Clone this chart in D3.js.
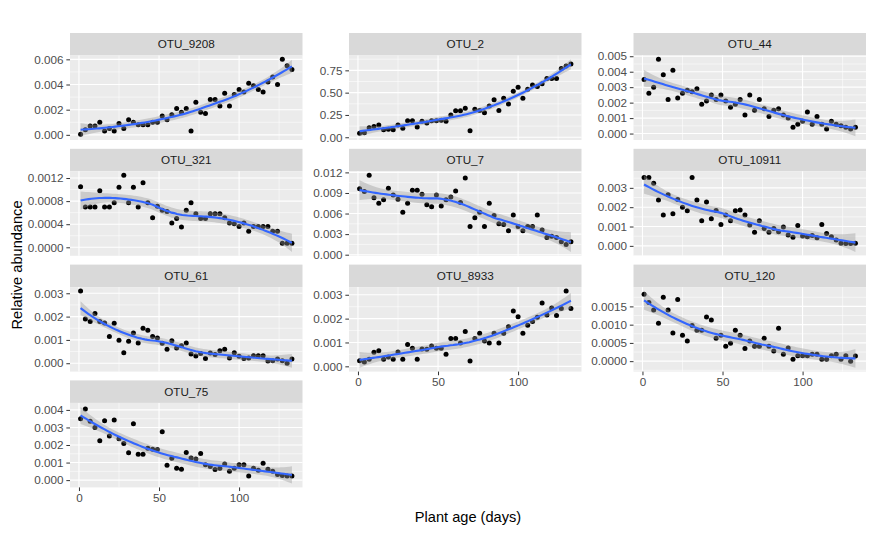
<!DOCTYPE html>
<html>
<head>
<meta charset="utf-8">
<script src="https://cdn.jsdelivr.net/npm/d3@7"></script>
<style>
  body { margin: 0; background: #fff; }
  svg { display: block; font-family: "Liberation Sans", Arial, sans-serif; }
</style>
</head>
<body>
<div id="chart"></div>
<script>
// sampling days (same for every OTU)
const days = [1,4,7,10,13,16,19,22,25,28,31,34,37,40,43,46,49,52,55,58,61,64,67,70,73,76,79,82,85,88,91,94,97,100,103,106,109,112,115,118,121,124,127,130,133];

const otuNames = ["OTU_9208","OTU_2","OTU_44","OTU_321","OTU_7","OTU_10911","OTU_61","OTU_8933","OTU_120","OTU_75"];

const otu9208 = [0.00005,0.0004,0.0007,0.0007,0.0010,0.0003,0.0005,0.0003,0.0009,0.0005,0.0012,0.0010,0.0008,0.0008,0.0008,0.0010,0.0010,0.0015,0.0012,0.0016,0.0021,0.0018,0.0021,0.0003,0.0026,0.0018,0.0017,0.0028,0.0028,0.0023,0.0033,0.0023,0.0032,0.0036,0.0034,0.0041,0.0039,0.0036,0.0034,0.0042,0.0046,0.0040,0.0060,0.0055,0.0052];
const otu2 = [0.045,0.05,0.107,0.12,0.137,0.085,0.09,0.085,0.137,0.10,0.185,0.185,0.115,0.178,0.16,0.185,0.185,0.19,0.18,0.25,0.296,0.296,0.326,0.074,0.315,0.30,0.274,0.35,0.42,0.30,0.437,0.374,0.515,0.56,0.437,0.537,0.585,0.57,0.60,0.66,0.66,0.66,0.77,0.80,0.82];
const otu44 = [0.0035,0.0026,0.0030,0.0048,0.0038,0.0022,0.0041,0.0023,0.0026,0.0028,0.0027,0.0029,0.0019,0.0021,0.0025,0.0022,0.0025,0.0021,0.0017,0.0019,0.0022,0.0012,0.0025,0.0015,0.0022,0.0016,0.0011,0.0015,0.0016,0.0012,0.0010,0.0004,0.0006,0.0008,0.0014,0.0006,0.0011,0.0006,0.0003,0.0008,0.0006,0.0005,0.0004,0.0003,0.0004];
const otu321 = [0.00105,0.0007,0.0007,0.0007,0.00098,0.0007,0.0007,0.00077,0.00104,0.00125,0.00077,0.00104,0.0007,0.00112,0.00077,0.00051,0.00071,0.00064,0.00062,0.00042,0.0005,0.00035,0.00064,0.00077,0.00058,0.0005,0.0005,0.00058,0.00058,0.00058,0.00051,0.00042,0.00041,0.00036,0.00042,0.00028,0.00036,0.00036,0.00036,0.00036,0.00028,0.00028,0.00007,0.00007,0.00007];
const otu7 = [0.0096,0.0092,0.0116,0.0083,0.0075,0.0080,0.0097,0.0087,0.0081,0.0062,0.0075,0.0094,0.0094,0.0088,0.0073,0.0070,0.0087,0.0071,0.0080,0.0084,0.0093,0.0076,0.0112,0.0041,0.0054,0.0062,0.0041,0.0075,0.0057,0.0045,0.0044,0.0035,0.0058,0.0041,0.0035,0.0041,0.0041,0.0058,0.0036,0.0025,0.0027,0.0025,0.0019,0.0015,0.0019];
const otu10911 = [0.00354,0.00354,0.00324,0.00237,0.00159,0.00264,0.00166,0.0024,0.0020,0.00181,0.00354,0.00237,0.0013,0.00227,0.0014,0.00183,0.0011,0.0016,0.0013,0.00181,0.00186,0.0016,0.00108,0.0007,0.0013,0.0009,0.0007,0.0009,0.00073,0.00097,0.00056,0.00044,0.00105,0.00051,0.00047,0.00053,0.00042,0.0011,0.00064,0.00047,0.0003,0.00014,0.00012,0.00012,0.00014];
const otu61 = [0.0031,0.0019,0.00179,0.00213,0.00179,0.00173,0.00115,0.00172,0.00099,0.00045,0.00094,0.0013,0.00087,0.0015,0.00141,0.00115,0.00108,0.00086,0.0006,0.00096,0.00065,0.00075,0.00087,0.0004,0.00031,0.00042,0.0002,0.00044,0.00038,0.00054,0.0006,0.00023,0.00045,0.0003,0.0002,0.00023,0.00032,0.00032,0.00032,0.0001,0.00011,0.00018,0.00011,0.0,0.00018];
const otu8933 = [0.00023,0.00018,0.0003,0.00059,0.00065,0.0003,0.00039,0.0003,0.0006,0.0003,0.00092,0.00076,0.0003,0.00073,0.00072,0.00085,0.00076,0.00076,0.00051,0.00117,0.00117,0.00098,0.00146,0.00022,0.00117,0.00139,0.00106,0.00098,0.00139,0.00098,0.00139,0.00166,0.00232,0.00208,0.00139,0.00172,0.00188,0.00206,0.00265,0.00215,0.00245,0.00213,0.00242,0.00316,0.00242];
const otu120 = [0.00183,0.00161,0.0014,0.00104,0.00175,0.0014,0.00077,0.00169,0.00071,0.00055,0.00098,0.00085,0.00085,0.00121,0.00113,0.00063,0.00071,0.00041,0.00049,0.00085,0.00071,0.00035,0.00055,0.00041,0.00041,0.00063,0.00041,0.00028,0.0009,0.00019,0.00036,0.00005,0.00015,0.00015,0.00015,0.00019,0.00019,0.00005,0.00005,0.00015,0.00019,0.00005,0.00015,0.0,0.00014];
const otu75 = [0.0035,0.00405,0.00336,0.0030,0.00225,0.00338,0.00251,0.00343,0.00236,0.00208,0.00156,0.00321,0.00148,0.00148,0.00182,0.00176,0.00174,0.00276,0.00084,0.00124,0.00068,0.00062,0.00158,0.00126,0.0012,0.00152,0.00088,0.00077,0.0006,0.00068,0.00092,0.00051,0.00068,0.00088,0.00088,0.00024,0.00068,0.00056,0.00096,0.00062,0.00051,0.00032,0.00026,0.00024,0.00024];

// y tick labels per panel
const ticks9208 = ["0.000","0.002","0.004","0.006"];
const ticks2 = ["0.00","0.25","0.50","0.75"];
const ticks44 = ["0.000","0.001","0.002","0.003","0.004","0.005"];
const ticks321 = ["0.0000","0.0004","0.0008","0.0012"];
const ticks7 = ["0.000","0.003","0.006","0.009","0.012"];
const ticks10911 = ["0.000","0.001","0.002","0.003"];
const ticks61 = ["0.000","0.001","0.002","0.003"];
const ticks8933 = ["0.000","0.001","0.002","0.003"];
const ticks120 = ["0.0000","0.0005","0.0010","0.0015"];
const ticks75 = ["0.000","0.001","0.002","0.003","0.004"];
const xTicks = [0, 50, 100];

const seriesValues = [otu9208, otu2, otu44, otu321, otu7, otu10911, otu61, otu8933, otu120, otu75];
const seriesTicks = [ticks9208, ticks2, ticks44, ticks321, ticks7, ticks10911, ticks61, ticks8933, ticks120, ticks75];

// ---- loess (degree 2, span 0.75, tricube) with standard-error band ----
function solve3(M, b) {
  const A = M.map((r, i) => r.concat([b[i]]));
  for (let c = 0; c < 3; c++) {
    let p = c;
    for (let r = c + 1; r < 3; r++) if (Math.abs(A[r][c]) > Math.abs(A[p][c])) p = r;
    [A[c], A[p]] = [A[p], A[c]];
    for (let r = 0; r < 3; r++) {
      if (r === c) continue;
      const f = A[r][c] / A[c][c];
      for (let k = c; k < 4; k++) A[r][k] -= f * A[c][k];
    }
  }
  return [A[0][3] / A[0][0], A[1][3] / A[1][1], A[2][3] / A[2][2]];
}

function loessOperator(xs, x0, span) {
  const n = xs.length, q = Math.floor(n * span);
  const d = xs.map(x => Math.abs(x - x0));
  const h = d.slice().sort((a, b) => a - b)[q - 1] * 1.000001;
  const w = d.map(v => v < h ? Math.pow(1 - Math.pow(v / h, 3), 3) : 0);
  const M = [[0,0,0],[0,0,0],[0,0,0]];
  xs.forEach((x, i) => {
    const t = (x - x0) / h, v = [1, t, t * t];
    for (let a = 0; a < 3; a++) for (let b = 0; b < 3; b++) M[a][b] += w[i] * v[a] * v[b];
  });
  const c = solve3(M, [1, 0, 0]);
  return xs.map((x, i) => { const t = (x - x0) / h; return w[i] * (c[0] + c[1] * t + c[2] * t * t); });
}

function smooth(xs, ys, span) {
  const n = xs.length;
  const L = xs.map(x => loessOperator(xs, x, span));
  const fit = L.map(l => d3.sum(l, (v, i) => v * ys[i]));
  const rss = d3.sum(ys, (y, i) => (y - fit[i]) ** 2);
  // R = (I-L)^T (I-L)
  const IL = L.map((row, i) => row.map((v, j) => (i === j ? 1 : 0) - v));
  const R = d3.range(n).map(i => d3.range(n).map(j => d3.sum(IL, row => row[i] * row[j])));
  const one = d3.sum(R, (row, i) => row[i]);
  const two = d3.sum(R, row => d3.sum(row, v => v * v));
  const df = one * one / two;
  const sigma = Math.sqrt(rss / one);
  const z = 1.959964;
  const tq = z + (z ** 3 + z) / (4 * df) + (5 * z ** 5 + 16 * z ** 3 + 3 * z) / (96 * df * df);
  const [x0, x1] = d3.extent(xs);
  const grid = d3.range(80).map(i => x0 + (x1 - x0) * i / 79);
  return grid.map(g => {
    const l = loessOperator(xs, g, span);
    const yhat = d3.sum(l, (v, i) => v * ys[i]);
    const se = sigma * Math.sqrt(d3.sum(l, v => v * v));
    return { x: g, y: yhat, lo: yhat - tq * se, hi: yhat + tq * se };
  });
}

// ---- layout ----
const W = 874, H = 533;
const colLeft = [70, 349, 633.5], panelW = 232.5;
const rowTop = [33, 148.8, 264.6, 380.4], stripH = 22.5, panelH = 84.5;
const tickLen = 3.65, tickPad = 2.9;

const svg = d3.select("#chart").append("svg")
  .attr("width", W).attr("height", H);

const xExt = d3.extent(days), xPad = (xExt[1] - xExt[0]) * 0.05;

otuNames.forEach((name, i) => {
  const col = i % 3, row = Math.floor(i / 3);
  const left = colLeft[col], top = rowTop[row] + stripH;
  const vals = seriesValues[i];
  const tickLabels = seriesTicks[i];
  const tickVals = tickLabels.map(Number);

  const fitted = smooth(days, vals, 0.75);
  const lo = Math.min(d3.min(vals), d3.min(fitted, d => d.lo));
  const hi = Math.max(d3.max(vals), d3.max(fitted, d => d.hi));
  const yPad = (hi - lo) * 0.05;

  const x = d3.scaleLinear().domain([xExt[0] - xPad, xExt[1] + xPad]).range([left, left + panelW]);
  const y = d3.scaleLinear().domain([lo - yPad, hi + yPad]).range([top + panelH, top]);

  const g = svg.append("g");

  // strip
  g.append("rect").attr("x", left).attr("y", rowTop[row]).attr("width", panelW).attr("height", stripH)
    .attr("fill", "#D9D9D9");
  g.append("text").attr("x", left + panelW / 2).attr("y", rowTop[row] + stripH / 2).attr("dy", "0.35em")
    .attr("text-anchor", "middle").attr("font-size", "11.7px").attr("fill", "#1A1A1A").text(name);

  // panel background
  g.append("rect").attr("x", left).attr("y", top).attr("width", panelW).attr("height", panelH)
    .attr("fill", "#EBEBEB");

  // grid
  const step = tickVals[1] - tickVals[0];
  const yMinor = [tickVals[0] - step / 2].concat(tickVals.map(v => v + step / 2))
    .filter(v => v > y.domain()[0] && v < y.domain()[1]);
  const xMinor = [-25, 25, 75, 125].filter(v => v > x.domain()[0] && v < x.domain()[1]);
  g.selectAll(".ymin").data(yMinor).join("line")
    .attr("x1", left).attr("x2", left + panelW).attr("y1", d => y(d)).attr("y2", d => y(d))
    .attr("stroke", "#fff").attr("stroke-width", 0.55);
  g.selectAll(".xmin").data(xMinor).join("line")
    .attr("y1", top).attr("y2", top + panelH).attr("x1", d => x(d)).attr("x2", d => x(d))
    .attr("stroke", "#fff").attr("stroke-width", 0.55);
  g.selectAll(".ymaj").data(tickVals).join("line")
    .attr("x1", left).attr("x2", left + panelW).attr("y1", d => y(d)).attr("y2", d => y(d))
    .attr("stroke", "#fff").attr("stroke-width", 1.1);
  g.selectAll(".xmaj").data(xTicks).join("line")
    .attr("y1", top).attr("y2", top + panelH).attr("x1", d => x(d)).attr("x2", d => x(d))
    .attr("stroke", "#fff").attr("stroke-width", 1.1);

  // clipped data layer
  const clipId = "clip" + i;
  svg.append("clipPath").attr("id", clipId).append("rect")
    .attr("x", left).attr("y", top).attr("width", panelW).attr("height", panelH);
  const dl = g.append("g").attr("clip-path", `url(#${clipId})`);

  dl.selectAll("circle").data(days).join("circle")
    .attr("cx", d => x(d)).attr("cy", (d, j) => y(vals[j])).attr("r", 2.5).attr("fill", "#000");

  dl.append("path").datum(fitted)
    .attr("d", d3.area().x(d => x(d.x)).y0(d => y(d.lo)).y1(d => y(d.hi)))
    .attr("fill", "#999999").attr("fill-opacity", 0.4);
  dl.append("path").datum(fitted)
    .attr("d", d3.line().x(d => x(d.x)).y(d => y(d.y)))
    .attr("fill", "none").attr("stroke", "#3366FF").attr("stroke-width", 2.1);

  // y axis
  const ya = g.append("g").attr("transform", `translate(${left},0)`)
    .call(d3.axisLeft(y).tickValues(tickVals).tickFormat((d, k) => tickLabels[k])
      .tickSize(tickLen).tickPadding(tickPad));
  // x axis only on the bottom panel of each column
  if (i + 3 >= otuNames.length) {
    g.append("g").attr("transform", `translate(0,${top + panelH})`)
      .call(d3.axisBottom(x).tickValues(xTicks).tickSize(tickLen).tickPadding(tickPad));
  }
});

svg.selectAll(".domain").remove();
svg.selectAll(".tick line").attr("stroke", "#333333").attr("stroke-width", 1);
svg.selectAll(".tick text").attr("fill", "#4D4D4D").attr("font-size", "11.7px")
  .attr("font-family", "Liberation Sans, Arial, sans-serif");

// axis titles
svg.append("text").attr("x", 468).attr("y", 521.5).attr("text-anchor", "middle")
  .attr("font-size", "14.6px").attr("fill", "#000").text("Plant age (days)");
svg.append("text").attr("transform", "translate(21.5,265) rotate(-90)").attr("text-anchor", "middle")
  .attr("font-size", "14.6px").attr("fill", "#000").text("Relative abundance");
</script>
</body>
</html>
